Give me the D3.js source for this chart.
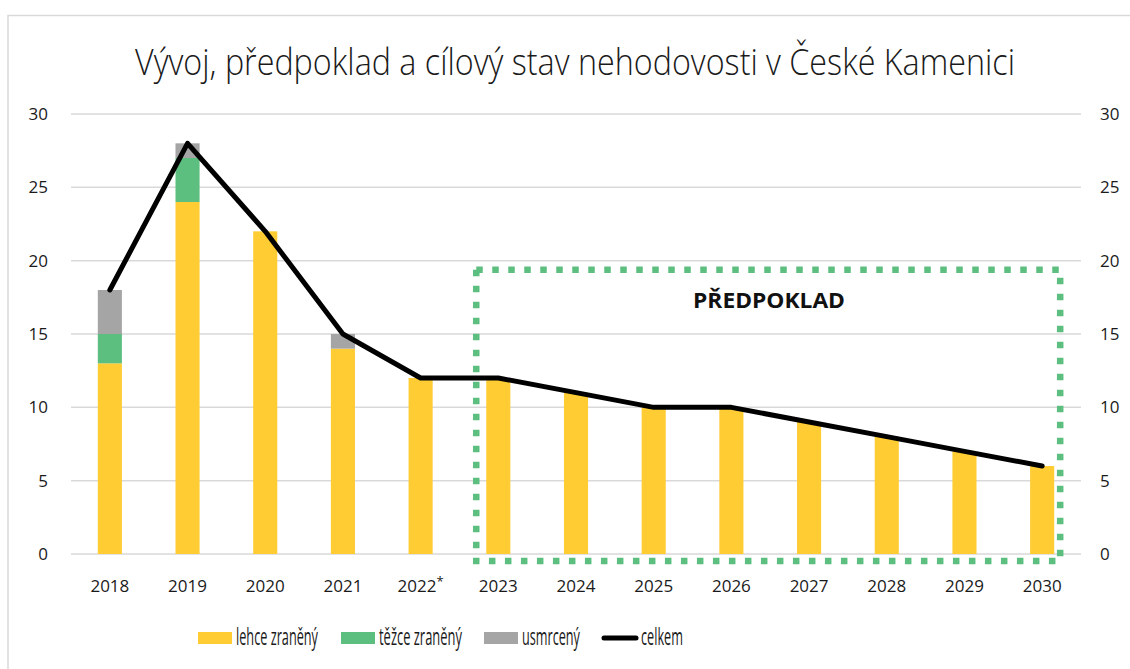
<!DOCTYPE html>
<html><head><meta charset="utf-8">
<script src="https://cdn.jsdelivr.net/npm/d3@7"></script>
<style>body{margin:0;background:#fff}svg{display:block}text{font-family:"Open Sans",sans-serif}</style>
</head><body><svg id="c" width="1130" height="669"></svg>
<script>
const years = ["2018","2019","2020","2021","2022","2023","2024","2025","2026","2027","2028","2029","2030"];
const lehce = [13,24,22,14,12,12,11,10,10,9,8,7,6];
const tezce = [2,3,0,0,0,0,0,0,0,0,0,0,0];
const usmrceny = [3,1,0,1,0,0,0,0,0,0,0,0,0];
const celkem = [18,28,22,15,12,12,11,10,10,9,8,7,6];
const yTicks = [0,5,10,15,20,25,30];
const seriesNames = ["lehce zraněný","těžce zraněný","usmrcený","celkem"];
const colors = ["#FFCC33","#5DBF7F","#A5A5A5","#000000"];
const title = "Vývoj, předpoklad a cílový stav nehodovosti v České Kamenici";
const forecastLabel = "PŘEDPOKLAD";
const forecastFrom = "2023", forecastTo = "2030";

const svg = d3.select("#c");
svg.append("rect").attr("x",8).attr("y",15.5).attr("width",1140).attr("height",700)
  .attr("fill","none").attr("stroke","#D9D9D9").attr("stroke-width",1.5);

const x = d3.scaleBand().domain(years).range([71,1081]).paddingInner(0.69).paddingOuter(0.345);
const y = d3.scaleLinear().domain([0,30]).range([554,114]);

// condense text horizontally to a target width
function fitText(sel, ax, target){
  const w = sel.node().getComputedTextLength();
  const s = target / w;
  sel.attr("x",0).attr("y",0).attr("transform",`translate(${ax},${sel.attr("data-y")}) scale(${s},1)`);
}

const tt = svg.append("text").attr("data-y",75).attr("text-anchor","middle")
  .attr("font-size",37).attr("font-weight",300).attr("fill","#1a1a1a").text(title);
fitText(tt,575,880);

// grid
svg.append("g").selectAll("line").data(yTicks).join("line")
  .attr("x1",71).attr("x2",1081).attr("y1",d=>y(d)).attr("y2",d=>y(d))
  .attr("stroke","#D9D9D9").attr("stroke-width",1.5);

// axes labels
const yl = d3.axisLeft(y).tickValues(yTicks).tickSize(0).tickPadding(0);
const gL = svg.append("g").attr("transform","translate(48,0)").call(yl);
const yr = d3.axisRight(y).tickValues(yTicks).tickSize(0).tickPadding(0);
const gR = svg.append("g").attr("transform","translate(1100,0)").call(yr);
const xa = d3.axisBottom(x).tickSize(0).tickPadding(0).tickFormat(d=>d);
const gX = svg.append("g").attr("transform","translate(0,587)").call(xa);
[gL,gR,gX].forEach(g=>{g.select(".domain").remove();
  g.selectAll("text").attr("font-size",17).attr("fill","#1a1a1a").attr("font-family","Open Sans, sans-serif");});
gX.selectAll("text").attr("dy","0.3em");
gX.selectAll(".tick").filter(d=>d==="2022").select("text").text(null)
  .call(t=>{t.append("tspan").text("2022");t.append("tspan").attr("dy","-0.45em").attr("font-size",13).text("*");});

// stacked bars
const rows = years.map((yr,i)=>({year:yr,l:lehce[i],t:tezce[i],u:usmrceny[i]}));
const stack = d3.stack().keys(["l","t","u"])(rows);
svg.append("g").selectAll("g").data(stack).join("g").attr("fill",(d,i)=>colors[i])
  .selectAll("rect").data(d=>d.filter(s=>s[1]-s[0]>0)).join("rect")
  .attr("x",d=>x(d.data.year)).attr("width",x.bandwidth())
  .attr("y",d=>y(d[1])).attr("height",d=>y(d[0])-y(d[1]));

// line
const line = d3.line().x((d,i)=>x(years[i])+x.bandwidth()/2).y(d=>y(d));
svg.append("path").datum(celkem).attr("d",line).attr("fill","none")
  .attr("stroke","#000").attr("stroke-width",5).attr("stroke-linecap","round").attr("stroke-linejoin","round");

// forecast box
const bx0 = x(forecastFrom) - 10, bx1 = x(forecastTo) + x.bandwidth() + 6;
const by0 = y(20) + 9, by1 = y(0) + 7;
svg.append("rect").attr("x",bx0).attr("y",by0).attr("width",bx1-bx0).attr("height",by1-by0)
  .attr("fill","none").attr("stroke","#5DBF7F").attr("stroke-width",6.5).attr("stroke-dasharray","6.5,9.5");
const pt = svg.append("text").attr("data-y",308).attr("text-anchor","middle").attr("font-weight","bold")
  .attr("font-size",21).attr("fill","#111").text(forecastLabel);
fitText(pt,769,152);

// legend
const leg = [{sx:198,tx:236,tl:82},{sx:341,tx:379,tl:83},{sx:484,tx:522,tl:58},{sx:602,tx:641,tl:42}];
const lg = svg.append("g");
seriesNames.forEach((n,i)=>{
  const L = leg[i];
  if(i<3) lg.append("rect").attr("x",L.sx).attr("y",632).attr("width",34).attr("height",12).attr("fill",colors[i]);
  else lg.append("line").attr("x1",L.sx+2).attr("x2",L.sx+34).attr("y1",638).attr("y2",638)
      .attr("stroke","#000").attr("stroke-width",5).attr("stroke-linecap","round");
  const t = lg.append("text").attr("data-y",645).attr("font-size",23).attr("fill","#1a1a1a").text(n);
  fitText(t,L.tx,L.tl);
});
</script></body></html>
